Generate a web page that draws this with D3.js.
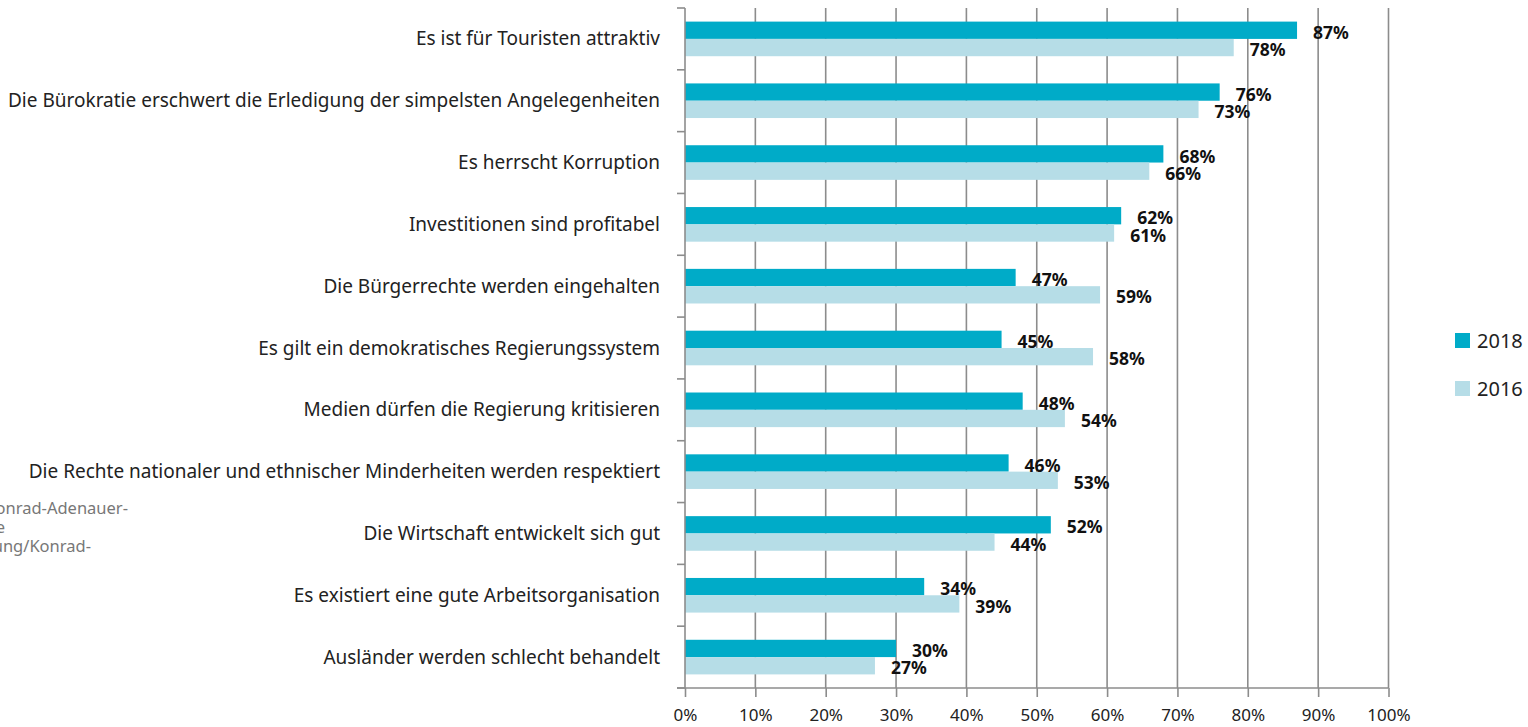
<!DOCTYPE html>
<html>
<head>
<meta charset="utf-8">
<script src="https://cdn.jsdelivr.net/npm/d3@7"></script>
<style>
  body { margin: 0; background: #fff; overflow: hidden; }
  text { font-family: "Noto Sans", "Open Sans", sans-serif; }
</style>
</head>
<body>
<script>
// statements shown in the chart, top to bottom
var categories = [
  "Es ist für Touristen attraktiv",
  "Die Bürokratie erschwert die Erledigung der simpelsten Angelegenheiten",
  "Es herrscht Korruption",
  "Investitionen sind profitabel",
  "Die Bürgerrechte werden eingehalten",
  "Es gilt ein demokratisches Regierungssystem",
  "Medien dürfen die Regierung kritisieren",
  "Die Rechte nationaler und ethnischer Minderheiten werden respektiert",
  "Die Wirtschaft entwickelt sich gut",
  "Es existiert eine gute Arbeitsorganisation",
  "Ausländer werden schlecht behandelt"
];
var values2018 = [87, 76, 68, 62, 47, 45, 48, 46, 52, 34, 30];
var values2016 = [78, 73, 66, 61, 59, 58, 54, 53, 44, 39, 27];
var seriesNames = ["2018", "2016"];
var xTicks = [0, 10, 20, 30, 40, 50, 60, 70, 80, 90, 100];
var sourceLines = ["Quelle: Konrad-Adenauer-", "Stiftung e", "Stiftung/Konrad-"];

var colors = { "2018": "#00abc8", "2016": "#b6dde7" };
var gridColor = "#8c8c8c";

var width = 1528, height = 727;
// note: "top" is taken by window.top, so use other names
var plotLeft = 685, plotRight = 1388.5, plotTop = 8, plotBottom = 688;

var svg = d3.select("body").append("svg")
  .attr("width", width)
  .attr("height", height);

var x = d3.scaleLinear().domain([0, 100]).range([plotLeft, plotRight]);
var y = d3.scaleBand().domain(categories).range([plotTop, plotBottom]).paddingInner(0.44).paddingOuter(0.22);
var ySub = d3.scaleBand().domain(seriesNames).range([0, y.bandwidth()]);

// vertical grid lines
svg.append("g").selectAll("line")
  .data(xTicks.slice(1))
  .enter().append("line")
  .attr("x1", function (d) { return x(d); })
  .attr("x2", function (d) { return x(d); })
  .attr("y1", plotTop)
  .attr("y2", plotBottom)
  .attr("stroke", gridColor)
  .attr("stroke-width", 1.6);

// bars
var rows = categories.map(function (c, i) {
  return [{ cat: c, s: "2018", v: values2018[i] }, { cat: c, s: "2016", v: values2016[i] }];
});
var bars = [].concat.apply([], rows);

svg.append("g").selectAll("rect")
  .data(bars)
  .enter().append("rect")
  .attr("x", x(0))
  .attr("y", function (d) { return y(d.cat) + ySub(d.s); })
  .attr("width", function (d) { return x(d.v) - x(0); })
  .attr("height", ySub.bandwidth())
  .attr("fill", function (d) { return colors[d.s]; });

// left axis with category ticks
var yTickPos = d3.range(categories.length + 1).map(function (i) {
  return plotTop + i * (plotBottom - plotTop) / categories.length;
});
var axisG = svg.append("g");
axisG.append("line")
  .attr("x1", plotLeft).attr("x2", plotLeft).attr("y1", plotTop).attr("y2", plotBottom)
  .attr("stroke", gridColor).attr("stroke-width", 1.6);
axisG.selectAll(".yt")
  .data(yTickPos)
  .enter().append("line")
  .attr("x1", plotLeft - 8).attr("x2", plotLeft)
  .attr("y1", function (d) { return d; })
  .attr("y2", function (d) { return d; })
  .attr("stroke", gridColor).attr("stroke-width", 1.6);

// bottom axis
var xAxis = d3.axisBottom(x)
  .tickValues(xTicks)
  .tickSize(9)
  .tickPadding(12)
  .tickFormat(function (d) { return d + "%"; });
var xg = svg.append("g").attr("transform", "translate(0," + plotBottom + ")").call(xAxis);
xg.select(".domain").attr("d", "M" + (plotLeft - 8) + ",0H" + plotRight).attr("stroke", gridColor).attr("stroke-width", 1.6);
xg.selectAll(".tick line").attr("stroke", gridColor).attr("stroke-width", 1.6);
xg.selectAll(".tick text")
  .attr("fill", "#222")
  .style("font-size", "17px")
  .style("font-family", "'Noto Sans', sans-serif");

// category labels
svg.append("g").selectAll("text")
  .data(categories)
  .enter().append("text")
  .attr("x", 660)
  .attr("y", function (d) { return y(d) + y.bandwidth() / 2 + 6.5; })
  .attr("text-anchor", "end")
  .attr("fill", "#222")
  .style("font-size", "19px")
  .text(function (d) { return d; });

// value labels
svg.append("g").selectAll("text")
  .data(bars)
  .enter().append("text")
  .attr("x", function (d) { return x(d.v) + 16; })
  .attr("y", function (d) { return y(d.cat) + ySub(d.s) + ySub.bandwidth(); })
  .attr("fill", "#111")
  .style("font-size", "17.5px")
  .style("font-weight", "bold")
  .text(function (d) { return d.v + "%"; });

// legend
var legend = svg.append("g").selectAll("g")
  .data(seriesNames)
  .enter().append("g")
  .attr("transform", function (d, i) { return "translate(1455," + (333 + i * 48) + ")"; });
legend.append("rect")
  .attr("width", 15).attr("height", 15)
  .attr("fill", function (d) { return colors[d]; });
legend.append("text")
  .attr("x", 22).attr("y", 15)
  .attr("fill", "#222")
  .style("font-size", "20px")
  .text(function (d) { return d; });

// source note, cut off at the left edge
svg.append("g").selectAll("text")
  .data(sourceLines)
  .enter().append("text")
  .attr("x", function (d, i) { return [128, 5, 91][i]; })
  .attr("y", function (d, i) { return 514 + i * 19; })
  .attr("text-anchor", "end")
  .attr("fill", "#777")
  .style("font-size", "16.5px")
  .text(function (d) { return d; });
</script>
</body>
</html>
